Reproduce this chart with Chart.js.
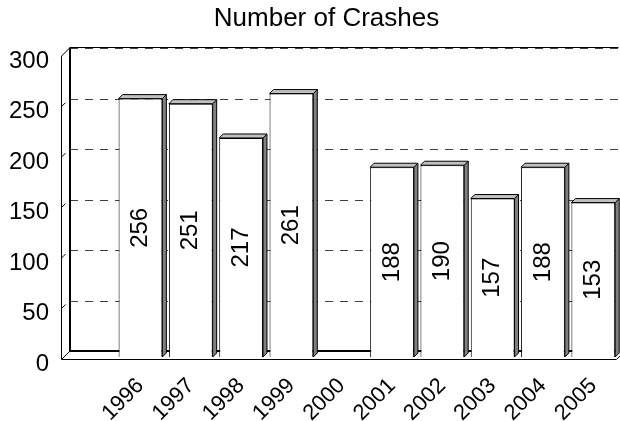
<!DOCTYPE html>
<html>
<head>
<meta charset="utf-8">
<script src="https://cdn.jsdelivr.net/npm/chart.js@4/dist/chart.umd.min.js"></script>
<style>
  html, body { margin: 0; padding: 0; background: #fff; }
</style>
</head>
<body>
<canvas id="crashChart" width="620" height="421"></canvas>
<script>
// Number of crashes per year (2000 has no bar in the source chart)
var years = ['1996','1997','1998','1999','2000','2001','2002','2003','2004','2005'];
var crashes = [256, 251, 217, 261, null, 188, 190, 157, 188, 153];
var yTicks = [0, 50, 100, 150, 200, 250, 300];

var FONT = '"Liberation Sans", Arial, sans-serif';
var DEPTH = 4;      // bar side / top face offset
var BACK = -6;      // back wall offset (y) from the bar scale
var FRONT = 2;      // front edge offset (y) from the bar scale

function line(ctx, x1, y1, x2, y2) {
  ctx.beginPath();
  ctx.moveTo(x1, y1);
  ctx.lineTo(x2, y2);
  ctx.stroke();
}

// walls, floor and dashed gridlines of the pseudo-3D box
var frame = {
  id: 'frame',
  afterLayout: function(chart) {
    // the source title sits a little right of the page centre
    if (chart.titleBlock) chart.titleBlock.left = 34;
  },
  beforeDatasetsDraw: function(chart) {
    var ctx = chart.ctx, ca = chart.chartArea, ys = chart.scales.y;
    var fx = Math.round(ca.left - 4) + 0.5;
    var bx = Math.round(ca.left + 5);
    var top = ys.getPixelForValue(300);
    var bot = ys.getPixelForValue(0);
    ctx.save();
    ctx.lineWidth = 1;

    // dashed gridlines on the back wall
    ctx.strokeStyle = '#404040';
    ctx.setLineDash([8, 7]);
    yTicks.forEach(function(v) {
      if (v === 0) return;
      var py = Math.round(ys.getPixelForValue(v) + BACK) + 0.5;
      line(ctx, bx, py, ca.right, py);
    });
    ctx.setLineDash([]);

    // short slants on the side wall
    ctx.strokeStyle = '#000';
    yTicks.forEach(function(v) {
      if (v === 0 || v === 300) return;
      var py = ys.getPixelForValue(v) + FRONT;
      line(ctx, fx, py, fx + 4, py - 4);
    });

    // back wall top edge
    var ty = Math.round(top + BACK) - 0.5;
    line(ctx, bx, ty, ca.right, ty);
    // side wall front edge and top slant
    line(ctx, fx, top + FRONT, fx, bot + FRONT);
    line(ctx, fx, top + FRONT, bx, ty);
    // floor
    var fy = Math.round(bot + FRONT) + 0.5;
    var by = Math.round(bot + BACK);
    line(ctx, fx, fy, ca.right - 2, fy);
    line(ctx, ca.right - 2, fy, ca.right + 4, fy - 6);
    line(ctx, fx, fy, bx, by);
    ctx.lineWidth = 2;
    line(ctx, bx, ty, bx, by);
    line(ctx, bx, by, ca.right, by);
    ctx.restore();
  },
  afterDatasetsDraw: function(chart) {
    var ctx = chart.ctx;
    var meta = chart.getDatasetMeta(0);
    ctx.save();
    ctx.lineWidth = 1;
    ctx.strokeStyle = '#000';
    meta.data.forEach(function(bar, i) {
      var v = chart.data.datasets[0].data[i];
      if (v === null) return;
      var l = bar.x - bar.width / 2, r = bar.x + bar.width / 2;
      var t = bar.y, b = bar.base;
      // right face
      ctx.fillStyle = '#808080';
      ctx.beginPath();
      ctx.moveTo(r, t); ctx.lineTo(r + DEPTH, t - DEPTH);
      ctx.lineTo(r + DEPTH, b - DEPTH); ctx.lineTo(r, b);
      ctx.closePath(); ctx.fill(); ctx.stroke();
      // top face
      ctx.fillStyle = '#c0c0c0';
      ctx.beginPath();
      ctx.moveTo(l, t); ctx.lineTo(l + DEPTH, t - DEPTH);
      ctx.lineTo(r + DEPTH, t - DEPTH); ctx.lineTo(r, t);
      ctx.closePath(); ctx.fill(); ctx.stroke();
      // value label
      ctx.save();
      ctx.translate(bar.x, (t + b) / 2);
      ctx.rotate(-Math.PI / 2);
      ctx.fillStyle = '#000';
      ctx.font = '24px ' + FONT;
      ctx.textAlign = 'center';
      ctx.textBaseline = 'middle';
      ctx.fillText(String(v), 0, 0);
      ctx.restore();
    });
    ctx.restore();
  }
};

new Chart(document.getElementById('crashChart'), {
  type: 'bar',
  data: {
    labels: [''].concat(years),
    datasets: [{
      label: 'Crashes',
      data: [null].concat(crashes),
      backgroundColor: '#ffffff',
      borderColor: '#000000',
      borderWidth: 1,
      barPercentage: 0.87,
      categoryPercentage: 1
    }]
  },
  options: {
    responsive: false,
    animation: false,
    devicePixelRatio: 1,
    layout: { padding: { left: 0, right: 1, top: 0, bottom: 0 } },
    plugins: {
      legend: { display: false },
      tooltip: { enabled: false },
      title: {
        display: true,
        text: 'Number of Crashes',
        color: '#000',
        font: { family: FONT, size: 26, weight: 'normal' },
        padding: { top: 3, bottom: 20 }
      }
    },
    scales: {
      x: {
        grid: { display: false },
        border: { display: false },
        ticks: {
          color: '#000', font: { family: FONT, size: 22 },
          maxRotation: 45, minRotation: 45, autoSkip: false, padding: 8
        },
        afterFit: function(s) { s.height = 64; }
      },
      y: {
        min: 0, max: 300,
        grid: { display: false, drawTicks: false },
        border: { display: false },
        ticks: {
          color: '#000', font: { family: FONT, size: 24 },
          stepSize: 50, padding: 16, labelOffset: 7
        },
        afterFit: function(s) { s.width = 65; }
      }
    }
  },
  plugins: [frame]
});
</script>
</body>
</html>
